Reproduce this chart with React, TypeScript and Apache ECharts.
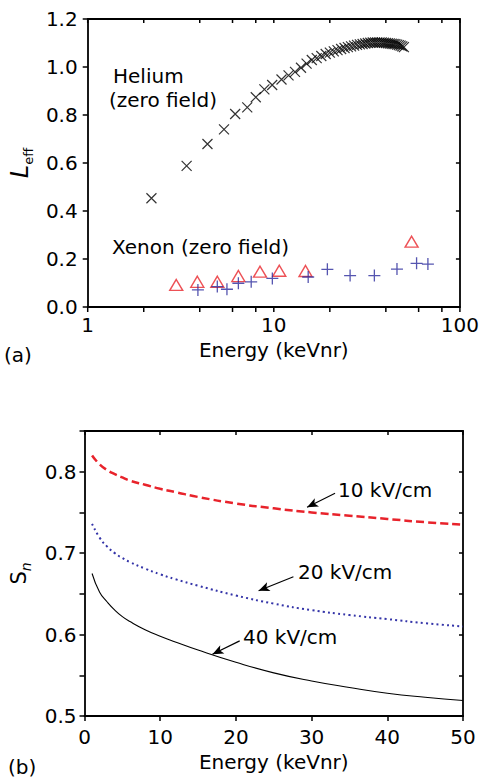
import React, { useEffect, useRef } from "react";
import * as echarts from "echarts";

const FONT = '"DejaVu Sans", "Liberation Sans", Arial, sans-serif';

// Panel (a): Leff vs energy (log x)
const heliumEnergy = [2.2, 3.4, 4.4, 5.4, 6.2, 7.2, 8.0, 8.9, 9.8, 11, 12, 13, 14, 15, 16, 17, 18, 19, 20, 21, 22, 23, 24, 25, 26, 27, 28, 29, 30, 31, 32, 33, 34, 35, 36, 37, 38, 39, 40, 41, 42, 43, 44, 45, 46, 47, 48, 49, 50];
const heliumLeff = [0.453, 0.588, 0.679, 0.740, 0.804, 0.832, 0.874, 0.907, 0.925, 0.948, 0.965, 0.980, 0.997, 1.014, 1.029, 1.037, 1.046, 1.054, 1.060, 1.065, 1.070, 1.075, 1.079, 1.083, 1.086, 1.089, 1.092, 1.094, 1.096, 1.098, 1.100, 1.101, 1.102, 1.102, 1.102, 1.102, 1.102, 1.101, 1.100, 1.099, 1.098, 1.097, 1.096, 1.095, 1.093, 1.091, 1.089, 1.086, 1.083];

const xenonPlusEnergy = [3.91, 4.97, 5.6, 6.45, 7.56, 9.82, 15.3, 19.4, 25.7, 34.7, 45.9, 58.5, 67.3];
const xenonPlusLeff = [0.071, 0.085, 0.074, 0.099, 0.105, 0.119, 0.125, 0.157, 0.131, 0.131, 0.158, 0.182, 0.179];

const xenonTriEnergy = [2.99, 3.88, 4.97, 6.45, 8.43, 10.7, 14.8, 55.0];
const xenonTriLeff = [0.092, 0.105, 0.105, 0.129, 0.147, 0.151, 0.150, 0.272];

const logMajorTicks = [1, 10, 100];
const logMinorTicks = [2, 4, 6, 8, 20, 40, 60, 80];

// Panel (b): Sn vs energy
const snEnergy = [1, 2, 3, 4, 5, 6, 8, 10, 12, 15, 20, 25, 30, 35, 40, 45, 50];
const sn10 = [0.820, 0.809, 0.802, 0.797, 0.793, 0.789, 0.784, 0.779, 0.775, 0.769, 0.761, 0.755, 0.750, 0.746, 0.742, 0.738, 0.735];
const sn20 = [0.736, 0.719, 0.708, 0.700, 0.694, 0.689, 0.681, 0.674, 0.668, 0.660, 0.648, 0.638, 0.630, 0.624, 0.619, 0.614, 0.610];
const sn40 = [0.675, 0.652, 0.640, 0.630, 0.622, 0.616, 0.606, 0.598, 0.591, 0.581, 0.566, 0.553, 0.543, 0.535, 0.528, 0.523, 0.519];

// Arrow annotations in data coordinates: [tailE, tailSn, headE, headSn]
const arrow10 = [33.1, 0.7736, 29.4, 0.7563];
const arrow20 = [27.6, 0.671, 23.0, 0.6538];
const arrow40 = [20.5, 0.5923, 16.9, 0.5759];

const zip = (a: number[], b: number[]) => a.map((v, i) => [v, b[i]]);

export default function App() {
  const ref = useRef<HTMLDivElement>(null);
  useEffect(() => {
    document.body.style.margin = "0";
    const chart = echarts.init(ref.current!, null, { renderer: "svg" });
    const axisLine = { show: true, onZero: false, lineStyle: { color: "#000", width: 1.8 } };
    const labelStyle = { color: "#000", fontSize: 20, fontFamily: FONT };
    const arrowLine = (a: number[]) => [
      { coord: [a[0], a[1]] },
      { coord: [a[2], a[3]] },
    ];
    const markArrows = (a: number[]) => ({
      silent: true,
      symbol: ["none", "arrow"],
      symbolSize: [7, 11],
      label: { show: false },
      lineStyle: { color: "#000", width: 1.2, type: "solid" },
      data: [arrowLine(a)],
    });
    const txt = (x: number, y: number, text: string, size = 20) => ({
      type: "text", x, y,
      style: { text, fontSize: size, fontFamily: FONT, fill: "#000", verticalAlign: "middle" },
    });

    const option: any = {
      animation: false,
      backgroundColor: "#fff",
      textStyle: { fontFamily: FONT },
      grid: [
        { left: 80, top: 19, width: 383, height: 288 },
        { left: 80, top: 431, width: 383, height: 285 },
      ],
      xAxis: [
        {
          type: "log", logBase: 10, min: 1, max: 100, gridIndex: 0, position: "bottom",
          axisLine, axisTick: { show: false }, splitLine: { show: false },
          axisLabel: { ...labelStyle, margin: 8, lineHeight: 20 },
          name: "Energy (keVnr)", nameLocation: "middle", nameGap: 33,
          nameTextStyle: { color: "#000", fontSize: 20, fontFamily: FONT, lineHeight: 20 },
        },
        {
          type: "log", logBase: 10, min: 1, max: 100, gridIndex: 0, position: "top",
          axisLine, axisTick: { show: false }, splitLine: { show: false }, axisLabel: { show: false },
        },
        {
          type: "value", min: 0, max: 50, interval: 10, gridIndex: 1, position: "bottom",
          axisLine, axisTick: { show: true, inside: false, length: 5, lineStyle: { color: "#000", width: 1.5 } },
          splitLine: { show: false },
          axisLabel: { ...labelStyle, margin: 11 },
          name: "Energy (keVnr)", nameLocation: "middle", nameGap: 36,
          nameTextStyle: { color: "#000", fontSize: 20, fontFamily: FONT },
        },
        {
          type: "value", min: 0, max: 50, interval: 10, gridIndex: 1, position: "top",
          axisLine, axisTick: { show: true, inside: true, length: 4, lineStyle: { color: "#000", width: 1.5 } },
          splitLine: { show: false }, axisLabel: { show: false },
        },
      ],
      yAxis: [
        {
          type: "value", min: 0, max: 1.2, interval: 0.2, gridIndex: 0, position: "left",
          axisLine, axisTick: { show: true, inside: false, length: 5, lineStyle: { color: "#000", width: 1.5 } },
          splitLine: { show: false },
          axisLabel: { ...labelStyle, margin: 10, formatter: (v: number) => v.toFixed(1) },
          name: "{L|L}{s|eff}", nameLocation: "middle", nameGap: 50, nameRotate: 90,
          nameTextStyle: {
            color: "#000", fontFamily: FONT,
            rich: {
              L: { fontSize: 24, fontStyle: "italic", fontFamily: FONT, color: "#000", lineHeight: 30, verticalAlign: "middle" },
              s: { fontSize: 13, fontFamily: FONT, color: "#000", lineHeight: 13, verticalAlign: "bottom" },
            },
          },
        },
        {
          type: "value", min: 0, max: 1.2, interval: 0.2, gridIndex: 0, position: "right",
          axisLine, axisTick: { show: true, inside: true, length: 4, lineStyle: { color: "#000", width: 1.5 } },
          splitLine: { show: false }, axisLabel: { show: false },
        },
        {
          type: "value", min: 0.5, max: 0.85, interval: 0.05, gridIndex: 1, position: "left",
          axisLine, axisTick: { show: true, inside: false, length: 5, lineStyle: { color: "#000", width: 1.5 } },
          splitLine: { show: false },
          axisLabel: {
            ...labelStyle, margin: 8,
            formatter: (v: number) => (Math.round(v * 100) % 10 === 0 ? v.toFixed(1) : ""),
          },
          name: "{S|S}{n|n}", nameLocation: "middle", nameGap: 52, nameRotate: 90,
          nameTextStyle: {
            color: "#000", fontFamily: FONT,
            rich: {
              S: { fontSize: 21, fontFamily: FONT, color: "#000", lineHeight: 28, verticalAlign: "middle" },
              n: { fontSize: 14, fontStyle: "italic", fontFamily: FONT, color: "#000", lineHeight: 14, verticalAlign: "bottom" },
            },
          },
        },
        {
          type: "value", min: 0.5, max: 0.85, interval: 0.05, gridIndex: 1, position: "right",
          axisLine, axisTick: { show: true, inside: true, length: 4, lineStyle: { color: "#000", width: 1.5 } },
          splitLine: { show: false }, axisLabel: { show: false },
        },
      ],
      series: [
        {
          type: "custom", name: "logTicks", xAxisIndex: 0, yAxisIndex: 0, clip: false, silent: true,
          data: [...logMajorTicks, ...logMinorTicks].map((v) => [v, 0]),
          renderItem: (params: any, api: any) => {
            const x = api.value(0);
            const pb = api.coord([x, 0]);
            const pt = api.coord([x, 1.2]);
            const st = { stroke: "#000", lineWidth: 1.5 };
            return {
              type: "group",
              children: [
                { type: "line", shape: { x1: pb[0], y1: pb[1], x2: pb[0], y2: pb[1] + 5 }, style: st },
                { type: "line", shape: { x1: pt[0], y1: pt[1], x2: pt[0], y2: pt[1] + 4 }, style: st },
              ],
            };
          },
        },
        {
          type: "scatter", name: "Helium", xAxisIndex: 0, yAxisIndex: 0,
          data: zip(heliumEnergy, heliumLeff),
          symbol: "path://M0,0L10,10M10,0L0,10", symbolSize: 10,
          itemStyle: { color: "transparent", borderColor: "#000", borderWidth: 1.2 },
        },
        {
          type: "scatter", name: "Xenon triangles", xAxisIndex: 0, yAxisIndex: 0,
          data: zip(xenonTriEnergy, xenonTriLeff),
          symbol: "triangle", symbolSize: [13, 11],
          itemStyle: { color: "transparent", borderColor: "#e8262c", borderWidth: 1.4 },
        },
        {
          type: "scatter", name: "Xenon plus", xAxisIndex: 0, yAxisIndex: 0,
          data: zip(xenonPlusEnergy, xenonPlusLeff),
          symbol: "path://M5,0L5,10M0,5L10,5", symbolSize: 12,
          itemStyle: { color: "transparent", borderColor: "#2a2a9c", borderWidth: 1.3 },
        },
        {
          type: "line", name: "10 kV/cm", xAxisIndex: 2, yAxisIndex: 2, smooth: true, showSymbol: false,
          data: zip(snEnergy, sn10),
          lineStyle: { color: "#e8232b", width: 2.5, type: [8, 4] },
          markLine: markArrows(arrow10),
        },
        {
          type: "line", name: "20 kV/cm", xAxisIndex: 2, yAxisIndex: 2, smooth: true, showSymbol: false,
          data: zip(snEnergy, sn20),
          lineStyle: { color: "#3434a8", width: 2, type: [2, 3.2] },
          markLine: markArrows(arrow20),
        },
        {
          type: "line", name: "40 kV/cm", xAxisIndex: 2, yAxisIndex: 2, smooth: true, showSymbol: false,
          data: zip(snEnergy, sn40),
          lineStyle: { color: "#000", width: 1.1 },
          markLine: markArrows(arrow40),
        },
      ],
      graphic: [
        txt(113, 76, "Helium"),
        txt(109, 100, "(zero field)"),
        txt(112, 247, "Xenon (zero field)"),
        txt(4, 355, "(a)"),
        txt(338, 490, "10 kV/cm"),
        txt(298, 572, "20 kV/cm"),
        txt(243, 637, "40 kV/cm"),
        txt(8, 767, "(b)"),
      ],
    };
    chart.setOption(option);
    return () => chart.dispose();
  }, []);
  return <div ref={ref} style={{ position: "absolute", left: 0, top: 0, width: 482, height: 783 }} />;
}
